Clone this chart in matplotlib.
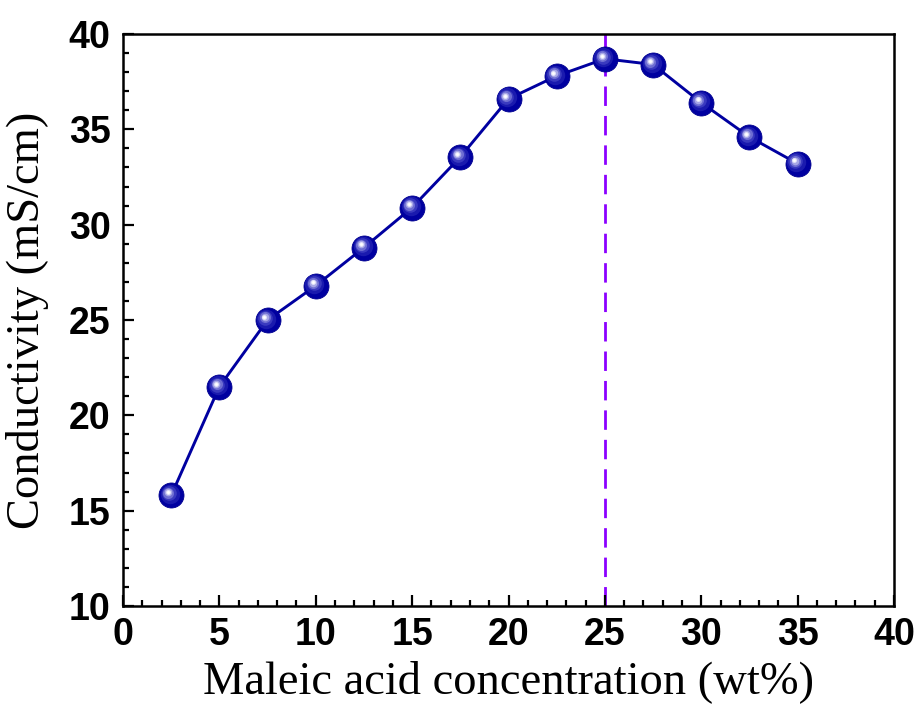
import matplotlib
matplotlib.use("Agg")
import matplotlib.pyplot as plt
import matplotlib.transforms as mtransforms
from matplotlib.ticker import MultipleLocator

# maleic acid loading (wt%) and measured conductivity (mS/cm)
conc = [2.5, 5, 7.5, 10, 12.5, 15, 17.5, 20, 22.5, 25, 27.5, 30, 32.5, 35]
cond = [15.8, 21.5, 25.0, 26.8, 28.8, 30.9, 33.55, 36.6, 37.8, 38.7, 38.4, 36.4, 34.6, 33.2]
optimum = 25

fig = plt.figure(figsize=(9.2, 7.04), dpi=100)
# spines at x 123..894 px, y 34..606 px
ax = fig.add_axes([123 / 920, 1 - 606 / 704, 771 / 920, 572 / 704])

ax.axvline(optimum, color='#8B00FF', lw=2, ls=(0, (7, 3.6)), zorder=1)
ax.plot(conc, cond, color='#0000A0', lw=2.1, zorder=2)

# fake "sphere" look: dark ball with lighter highlight shifted up-left
ax.plot(conc, cond, 'o', ms=18, color='#0000A0', mec='#000090', mew=0.6, zorder=3)
shift = [(1.0, '#1A1AAE', 14), (1.6, '#3A3ABF', 10.5), (2.0, '#6E6ED2', 8),
         (2.2, '#A8A8E6', 5.5), (2.3, '#E6E6FA', 3.5), (2.3, '#FFFFFF', 2)]
for d, c, s in shift:
    tr = ax.transData + mtransforms.ScaledTranslation(-d / 72, d / 72, fig.dpi_scale_trans)
    ax.plot(conc, cond, 'o', ms=s, color=c, mew=0, transform=tr, zorder=4)

ax.set_xlim(0, 40)
ax.set_ylim(10, 40)
ax.xaxis.set_major_locator(MultipleLocator(5))
ax.xaxis.set_minor_locator(MultipleLocator(1))
ax.yaxis.set_major_locator(MultipleLocator(5))
ax.yaxis.set_minor_locator(MultipleLocator(1))
ax.tick_params(which='major', direction='in', length=8, width=1.6, top=False, right=False)
ax.tick_params(which='minor', direction='in', length=4, width=1.6, top=False, right=False)
ax.tick_params(axis='x', labelsize=27, pad=8)
ax.tick_params(axis='y', labelsize=27, pad=9)
for lbl in ax.get_xticklabels() + ax.get_yticklabels():
    lbl.set_fontfamily('Liberation Sans')
    lbl.set_fontweight('bold')
for sp in ax.spines.values():
    sp.set_linewidth(1.8)

ax.set_xlabel('Maleic acid concentration (wt%)', family='Liberation Serif', fontsize=33.5, labelpad=5)
ax.set_ylabel('Conductivity (mS/cm)', family='Liberation Serif', fontsize=33.5, labelpad=14)

fig.savefig('out.png', dpi=100)
